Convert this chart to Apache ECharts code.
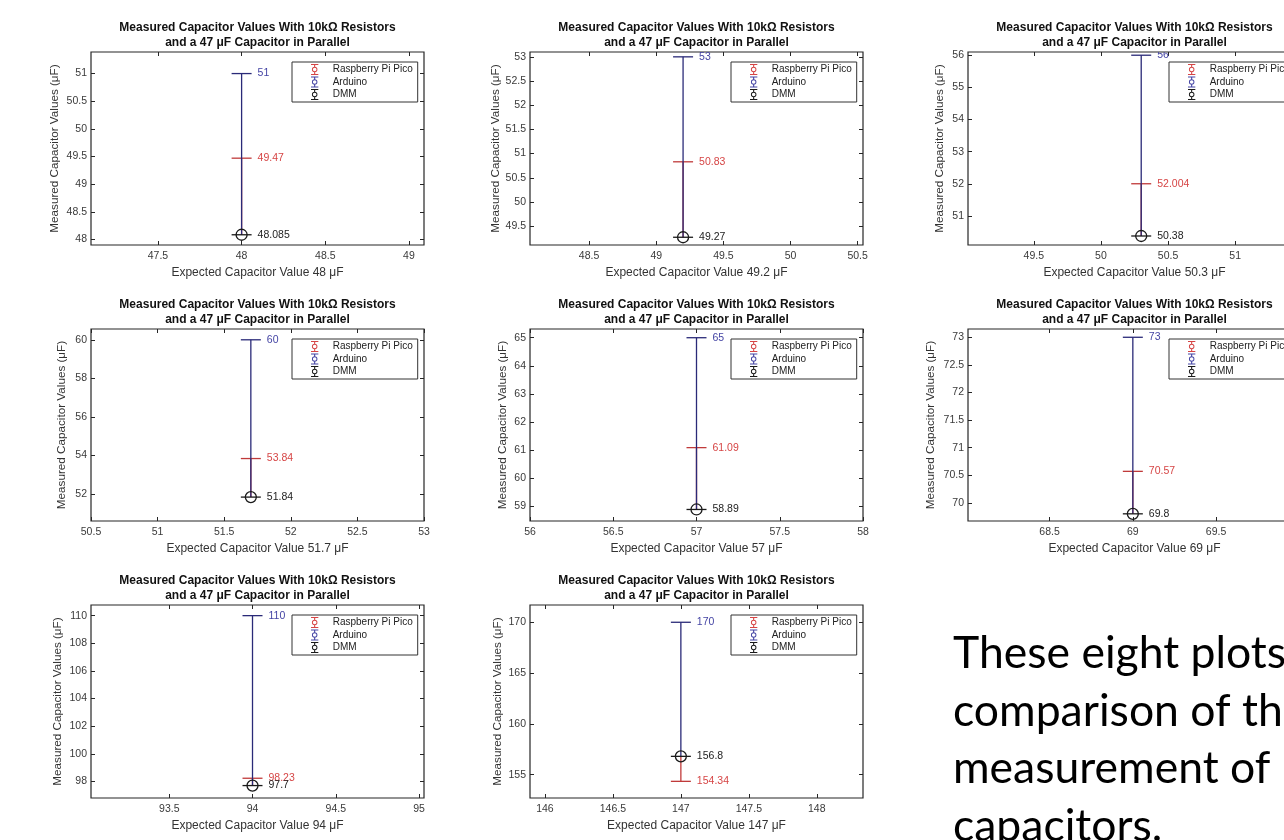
<!DOCTYPE html>
<html>
<head>
<meta charset="utf-8">
<script src="https://cdn.jsdelivr.net/npm/echarts@6/dist/echarts.min.js"></script>
<style>
  html, body { margin: 0; padding: 0; background: #fff; }
  #chart { width: 1284px; height: 840px; }
</style>
</head>
<body>
<div id="chart"></div>
<script>
// ---------------- data ----------------
const titleLines = ['Measured Capacitor Values With 10kΩ Resistors', 'and a 47 μF Capacitor in Parallel'];
const seriesNames = ['Raspberry Pi Pico', 'Arduino', 'DMM'];
const expectedValues = [48, 49.2, 50.3, 51.7, 57, 69, 94, 147];
const picoValues = [49.47, 50.83, 52.004, 53.84, 61.09, 70.57, 98.23, 154.34];
const arduinoValues = [51, 53, 56, 60, 65, 73, 110, 170];
const dmmValues = [48.085, 49.27, 50.38, 51.84, 58.89, 69.8, 97.7, 156.8];
const xTickValues = [
  [47.5, 48, 48.5, 49],
  [48.5, 49, 49.5, 50, 50.5],
  [49.5, 50, 50.5, 51],
  [50.5, 51, 51.5, 52, 52.5, 53],
  [56, 56.5, 57, 57.5, 58],
  [68.5, 69, 69.5, 70],
  [93.5, 94, 94.5, 95],
  [146, 146.5, 147, 147.5, 148]
];
const yTickValues = [
  [48, 48.5, 49, 49.5, 50, 50.5, 51],
  [49.5, 50, 50.5, 51, 51.5, 52, 52.5, 53],
  [51, 52, 53, 54, 55, 56],
  [52, 54, 56, 58, 60],
  [59, 60, 61, 62, 63, 64, 65],
  [70, 70.5, 71, 71.5, 72, 72.5, 73],
  [98, 100, 102, 104, 106, 108, 110],
  [155, 160, 165, 170]
];
const xLimits = [[47.1, 49.09], [48.06, 50.54], [49.01, 51.49], [50.5, 53], [56, 58], [68.01, 70.01], [93.03, 95.03], [145.89, 148.34]];
const yLimits = [[47.9, 51.39], [49.11, 53.1], [50.1, 56.1], [50.6, 60.56], [58.48, 65.31], [69.67, 73.15], [96.8, 110.77], [152.7, 171.7]];
const yAxisTitle = 'Measured Capacitor Values (μF)';
const xAxisTitlePrefix = 'Expected Capacitor Value ';
const noteLines = ['These eight plots', 'comparison of th', 'measurement of', 'capacitors.'];

// ---------------- layout / style ----------------
const FONT = '"Liberation Sans", Arial, sans-serif';
const colLeft = [91, 530, 968];
const rowTop = [52, 329, 605];
const rowHeight = [193, 192, 193];
const plotWidth = 333;
const yNameGap = [30, 26, 22, 23, 21, 31, 27, 26];
const AX = '#262626';
const RED_LINE = '#c03a3a', RED_TEXT = '#d64545';
const BLUE_LINE = '#2a2a78', BLUE_TEXT = '#4444a4';
const BLACK = '#1a1a1a';
const legendIcon = 'path://M0,0H8V1.2H0Z M0,10.8H8V12H0Z M3.4,0H4.6V3.2H3.4Z M3.4,8.8H4.6V12H3.4Z M7,6A3,3,0,1,1,1,6A3,3,0,1,1,7,6Z M6,6A2,2,0,1,0,2,6A2,2,0,1,0,6,6Z';

function makeRender(kind, lineColor, capColor, textColor) {
  return function (params, api) {
    const x = api.value(0), v = api.value(1), o = api.value(2);
    const p = api.coord([x, v]);
    const q = api.coord([x, o]);
    const children = [];
    if (kind !== 'dmm') {
      children.push({ type: 'line', shape: { x1: p[0], y1: p[1], x2: q[0], y2: q[1] }, style: { stroke: lineColor, lineWidth: 1.3 } });
    }
    children.push({ type: 'line', shape: { x1: p[0] - 10, y1: p[1], x2: p[0] + 10, y2: p[1] }, style: { stroke: capColor, lineWidth: 1.3 } });
    if (kind === 'dmm') {
      children.push({ type: 'circle', shape: { cx: p[0], cy: p[1], r: 5.5 }, style: { stroke: capColor, fill: 'none', lineWidth: 1.3 } });
    }
    children.push({ type: 'text', x: p[0] + 16, y: p[1], style: { text: String(v), fill: textColor, font: '10.5px ' + FONT, verticalAlign: 'middle', align: 'left' } });
    return { type: 'group', children };
  };
}

const grids = [], xAxes = [], yAxes = [], series = [], legends = [], graphics = [];

expectedValues.forEach((ev, i) => {
  const r = Math.floor(i / 3), c = i % 3;
  const left = colLeft[c], top = rowTop[r], h = rowHeight[r];
  grids.push({ left: left, top: top, width: plotWidth, height: h, show: true, borderColor: AX, borderWidth: 1.2, backgroundColor: '#fff', containLabel: false, outerBoundsMode: 'none' });

  const tickCommon = { show: true, inside: true, length: 4, lineStyle: { color: AX, width: 1 } };
  xAxes.push({
    type: 'value', gridIndex: i, position: 'bottom', min: xLimits[i][0], max: xLimits[i][1],
    axisLine: { show: false }, splitLine: { show: false },
    axisTick: Object.assign({ customValues: xTickValues[i] }, tickCommon),
    axisLabel: { customValues: xTickValues[i], fontSize: 10.5, fontFamily: FONT, color: '#3a3a3a', margin: 6 },
    name: xAxisTitlePrefix + ev + ' μF', nameLocation: 'middle', nameGap: 22,
    nameTextStyle: { fontSize: 12, fontFamily: FONT, color: '#333' }
  });
  xAxes.push({
    type: 'value', gridIndex: i, position: 'top', min: xLimits[i][0], max: xLimits[i][1],
    axisLine: { show: false }, splitLine: { show: false },
    axisTick: Object.assign({ customValues: xTickValues[i] }, tickCommon),
    axisLabel: { show: false }
  });
  yAxes.push({
    type: 'value', gridIndex: i, position: 'left', min: yLimits[i][0], max: yLimits[i][1],
    axisLine: { show: false }, splitLine: { show: false },
    axisTick: Object.assign({ customValues: yTickValues[i] }, tickCommon),
    axisLabel: { customValues: yTickValues[i], fontSize: 10.5, fontFamily: FONT, color: '#3a3a3a', margin: 4 },
    name: yAxisTitle, nameLocation: 'middle', nameGap: yNameGap[i],
    nameTextStyle: { fontSize: 11.7, fontFamily: FONT, color: '#333' }
  });
  yAxes.push({
    type: 'value', gridIndex: i, position: 'right', min: yLimits[i][0], max: yLimits[i][1],
    axisLine: { show: false }, splitLine: { show: false },
    axisTick: Object.assign({ customValues: yTickValues[i] }, tickCommon),
    axisLabel: { show: false }
  });

  const xi = 2 * i, yi = 2 * i;
  series.push({
    type: 'custom', name: seriesNames[0], xAxisIndex: xi, yAxisIndex: yi, clip: true, z: 2,
    itemStyle: { color: RED_TEXT },
    renderItem: makeRender('pico', RED_LINE, RED_LINE, RED_TEXT),
    data: [[ev, picoValues[i], dmmValues[i]]]
  });
  series.push({
    type: 'custom', name: seriesNames[1], xAxisIndex: xi, yAxisIndex: yi, clip: true, z: 3,
    itemStyle: { color: BLUE_LINE },
    renderItem: makeRender('arduino', BLUE_LINE, BLUE_LINE, BLUE_TEXT),
    data: [[ev, arduinoValues[i], dmmValues[i]]]
  });
  series.push({
    type: 'custom', name: seriesNames[2], xAxisIndex: xi, yAxisIndex: yi, clip: true, z: 4,
    itemStyle: { color: BLACK },
    renderItem: makeRender('dmm', BLACK, BLACK, '#222'),
    data: [[ev, dmmValues[i], dmmValues[i]]]
  });

  legends.push({
    orient: 'vertical', left: left + plotWidth - 132, top: top + 10,
    padding: [2, 5, 2, 19], itemWidth: 26, itemHeight: 11, itemGap: 1.5,
    backgroundColor: '#fff', borderColor: '#333', borderWidth: 1, borderRadius: 0,
    selectedMode: false, symbolKeepAspect: true,
    textStyle: { fontSize: 10, fontFamily: FONT, color: '#222', lineHeight: 11 },
    data: [
      { name: seriesNames[0], icon: legendIcon, itemStyle: { color: RED_TEXT, borderWidth: 0 } },
      { name: seriesNames[1], icon: legendIcon, itemStyle: { color: BLUE_TEXT, borderWidth: 0 } },
      { name: seriesNames[2], icon: legendIcon, itemStyle: { color: BLACK, borderWidth: 0 } }
    ]
  });

  graphics.push({
    type: 'text', x: left + plotWidth / 2, y: top - 32, z: 10,
    style: { text: titleLines.join('\n'), align: 'center', verticalAlign: 'top', font: 'bold 12px ' + FONT, lineHeight: 15, fill: '#111' }
  });
});

graphics.push({
  type: 'text', x: 953, y: 625, z: 10,
  style: { text: noteLines.join('\n'), align: 'left', verticalAlign: 'top', font: '44.5px Lato, "Open Sans", sans-serif', lineHeight: 57.5, fill: '#000' }
});

const chart = echarts.init(document.getElementById('chart'), null, { renderer: 'canvas' });
chart.setOption({
  backgroundColor: '#fff',
  animation: false,
  grid: grids,
  xAxis: xAxes,
  yAxis: yAxes,
  legend: legends,
  series: series,
  graphic: graphics
});
</script>
</body>
</html>
